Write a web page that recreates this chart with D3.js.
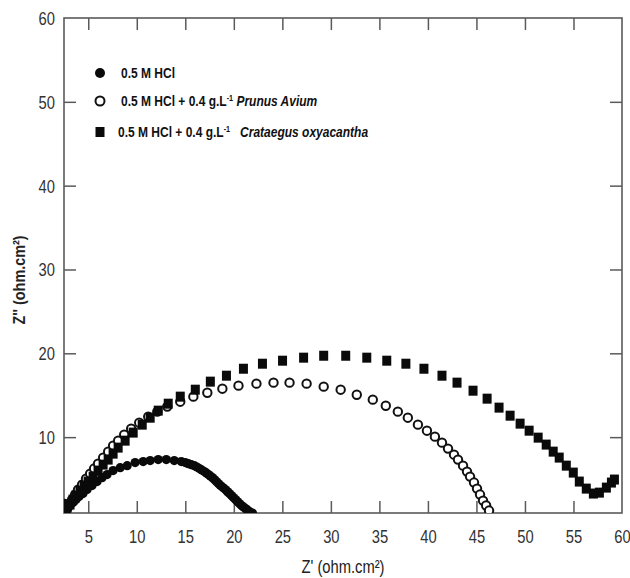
<!DOCTYPE html>
<html>
<head>
<meta charset="utf-8">
<script src="https://cdn.jsdelivr.net/npm/d3@7"></script>
<style>
  html, body { margin: 0; padding: 0; background: #fff; }
  svg { display: block; }
</style>
</head>
<body>
<svg id="chart" width="630" height="578"></svg>
<script>
// ---- Data ----
const xTicks = [5, 10, 15, 20, 25, 30, 35, 40, 45, 50, 55, 60];
const yTicks = [10, 20, 30, 40, 50, 60];

const hclX = [2.55, 2.6, 2.55, 2.71, 2.91, 3.12, 3.43, 3.74, 4.05, 4.46, 4.88, 5.39, 5.91, 6.43, 6.94, 7.56, 8.29, 9.01, 9.83, 10.66, 11.38, 12.21, 13.04, 13.86, 14.59, 15.0, 15.31, 15.62, 15.93, 16.2, 16.45, 16.7, 16.96, 17.17, 17.38, 17.58, 17.79, 18.0, 18.20, 18.41, 18.62, 18.88, 19.13, 19.34, 19.55, 19.76, 19.96, 20.17, 20.37, 20.58, 20.79, 21.0, 21.20, 21.4, 21.61, 21.92];
const hclY = [2.1, 1.6, 1.0, 1.12, 1.48, 1.84, 2.19, 2.55, 2.91, 3.27, 3.74, 4.22, 4.70, 5.17, 5.53, 6.01, 6.36, 6.60, 6.96, 7.08, 7.20, 7.32, 7.32, 7.20, 7.08, 6.96, 6.84, 6.72, 6.60, 6.43, 6.25, 6.07, 5.89, 5.71, 5.53, 5.35, 5.17, 4.94, 4.70, 4.46, 4.22, 3.98, 3.74, 3.50, 3.27, 3.03, 2.79, 2.55, 2.31, 2.07, 1.84, 1.66, 1.48, 1.30, 1.12, 0.95];

const prunusX = [2.6, 2.71, 3.02, 3.33, 3.64, 3.95, 4.36, 4.77, 5.19, 5.60, 6.01, 6.53, 7.05, 7.56, 8.08, 8.70, 9.42, 10.25, 11.18, 12.11, 13.14, 14.48, 15.83, 17.27, 18.82, 20.48, 22.33, 24.09, 25.74, 27.50, 29.26, 31.01, 32.67, 34.32, 35.66, 36.90, 37.93, 38.97, 39.90, 40.72, 41.45, 42.07, 42.69, 43.10, 43.62, 44.03, 44.34, 44.75, 45.06, 45.37, 45.68, 46.00, 46.30];
const prunusY = [1.0, 1.36, 1.96, 2.55, 3.15, 3.74, 4.34, 5.05, 5.65, 6.25, 6.84, 7.56, 8.27, 8.99, 9.58, 10.30, 11.01, 11.73, 12.44, 13.04, 13.64, 14.23, 14.83, 15.30, 15.78, 16.14, 16.38, 16.50, 16.50, 16.38, 16.02, 15.66, 15.06, 14.47, 13.75, 13.04, 12.32, 11.49, 10.77, 10.06, 9.34, 8.63, 7.91, 7.32, 6.60, 5.89, 5.29, 4.58, 3.86, 3.15, 2.43, 1.84, 1.24];

const crataegusX = [2.55, 2.60, 2.81, 3.12, 3.43, 3.74, 4.15, 4.57, 4.98, 5.50, 6.01, 6.53, 7.05, 7.56, 8.08, 8.80, 9.63, 10.56, 11.38, 12.21, 13.24, 14.48, 16.03, 17.58, 19.24, 20.99, 22.95, 25.02, 27.19, 29.26, 31.53, 33.70, 35.76, 37.73, 39.59, 41.45, 43.00, 44.65, 46.10, 47.33, 48.47, 49.50, 50.43, 51.36, 52.19, 52.91, 53.53, 54.26, 54.98, 55.60, 56.32, 57.05, 57.67, 58.39, 58.91, 59.22];
const crataegusY = [1.0, 1.12, 1.60, 1.96, 2.55, 3.03, 3.62, 4.22, 4.70, 5.29, 6.01, 6.72, 7.32, 8.03, 8.75, 9.58, 10.54, 11.49, 12.32, 13.16, 13.99, 14.83, 15.66, 16.62, 17.33, 18.16, 18.76, 19.12, 19.48, 19.71, 19.71, 19.48, 19.12, 18.76, 18.16, 17.33, 16.50, 15.54, 14.59, 13.52, 12.56, 11.61, 10.77, 9.94, 9.11, 8.27, 7.56, 6.60, 5.77, 4.70, 3.86, 3.27, 3.38, 3.98, 4.58, 4.94];

const legendLabels = ["0.5 M HCl", "0.5 M HCl + 0.4 g.L", "0.5 M HCl + 0.4 g.L"];
const legendSpecies = ["", "Prunus Avium", "Crataegus oxyacantha"];

// ---- Layout ----
const svg = d3.select("#chart");
const L = 64, R = 622, T = 18, B = 513;
const x = d3.scaleLinear().domain([2.5, 60]).range([L, R]);
const y = d3.scaleLinear().domain([0.95, 60]).range([B, T]);
const axisColor = "#5a5a5a";
const font = "'Liberation Sans', Arial, sans-serif";
const sx = 0.82;

svg.append("defs").append("clipPath").attr("id", "plotclip")
  .append("rect").attr("x", L).attr("y", T).attr("width", R - L).attr("height", B - T);

// axes with inward ticks
const tickLen = 12;
const gB = svg.append("g").attr("transform", `translate(0,${B})`)
  .call(d3.axisBottom(x).tickValues(xTicks).tickSizeInner(-tickLen).tickSizeOuter(0).tickPadding(17));
const gT = svg.append("g").attr("transform", `translate(0,${T})`)
  .call(d3.axisTop(x).tickValues(xTicks.filter(v => v < 60)).tickSizeInner(-tickLen).tickSizeOuter(0).tickFormat(""));
const gL = svg.append("g").attr("transform", `translate(${L},0)`)
  .call(d3.axisLeft(y).tickValues(yTicks).tickSizeInner(-tickLen).tickSizeOuter(0));
const gR = svg.append("g").attr("transform", `translate(${R},0)`)
  .call(d3.axisRight(y).tickValues(yTicks.filter(v => v < 60)).tickSizeInner(-tickLen).tickSizeOuter(0).tickFormat(""));

[gB, gT, gL, gR].forEach(g => {
  g.select(".domain").remove();
  g.selectAll(".tick line").attr("stroke", axisColor).attr("stroke-width", 1.5);
  g.selectAll(".tick text").attr("fill", "#333").style("font-family", font).style("font-size", "18px");
});
gB.selectAll(".tick text").attr("transform", `scale(${sx},1)`);
gL.selectAll(".tick text").attr("x", -9 / sx).attr("dy", "0.36em").attr("transform", `scale(${sx},1)`);
gL.selectAll(".tick").filter(d => d === 60).select("line").remove();
gB.selectAll(".tick").filter(d => d === 60).select("line").remove();

// frame
svg.append("rect").attr("x", L).attr("y", T).attr("width", R - L).attr("height", B - T)
  .attr("fill", "none").attr("stroke", axisColor).attr("stroke-width", 1.6);

// axis titles
svg.append("g").attr("transform", `translate(343,573) scale(${sx},1)`)
  .append("text").attr("text-anchor", "middle")
  .style("font-family", font).style("font-size", "18px").attr("fill", "#222")
  .text("Z' (ohm.cm²)");
svg.append("g").attr("transform", "translate(25,280) rotate(-90) scale(0.9,1)")
  .append("text").attr("text-anchor", "middle")
  .style("font-family", font).style("font-size", "16px").style("font-weight", "bold").attr("fill", "#222")
  .text("Z'' (ohm.cm²)");

// ---- Data marks ----
const plot = svg.append("g").attr("clip-path", "url(#plotclip)");
const mk = (xs, ys) => xs.map((v, i) => ({ x: v, y: ys[i] }));

plot.append("g").selectAll("circle").data(mk(prunusX, prunusY)).join("circle")
  .attr("cx", d => x(d.x)).attr("cy", d => y(d.y)).attr("r", 4.2)
  .attr("fill", "#fff").attr("stroke", "#111").attr("stroke-width", 2);

plot.append("g").selectAll("rect").data(mk(crataegusX, crataegusY)).join("rect")
  .attr("x", d => x(d.x) - 4.5).attr("y", d => y(d.y) - 5).attr("width", 9).attr("height", 10)
  .attr("fill", "#0a0a0a");

plot.append("g").selectAll("circle").data(mk(hclX, hclY)).join("circle")
  .attr("cx", d => x(d.x)).attr("cy", d => y(d.y)).attr("r", 4.6)
  .attr("fill", "#0a0a0a");

// ---- Legend ----
const legY = [73, 101, 132];
const leg = svg.append("g");
leg.append("circle").attr("cx", 100).attr("cy", legY[0]).attr("r", 5).attr("fill", "#0a0a0a");
leg.append("circle").attr("cx", 100).attr("cy", legY[1]).attr("r", 4.5).attr("fill", "#fff").attr("stroke", "#111").attr("stroke-width", 2);
leg.append("rect").attr("x", 95.5).attr("y", legY[2] - 5).attr("width", 9).attr("height", 10).attr("fill", "#0a0a0a");

legendLabels.forEach((lab, i) => {
  const g = leg.append("g").attr("transform", `translate(${i === 2 ? 118 : 121},${legY[i] + 5}) scale(0.8,1)`);
  const t = g.append("text")
    .style("font-family", font).style("font-size", "15px").style("font-weight", "bold").attr("fill", "#111");
  t.append("tspan").text(lab);
  if (i > 0) {
    t.append("tspan").attr("dy", -5).style("font-size", "9px").text("-1");
    t.append("tspan").attr("dy", 5).text(i === 2 ? "\u00a0\u00a0\u00a0" : "\u00a0");
    t.append("tspan").style("font-style", "italic").text(legendSpecies[i]);
  }
});
</script>
</body>
</html>
